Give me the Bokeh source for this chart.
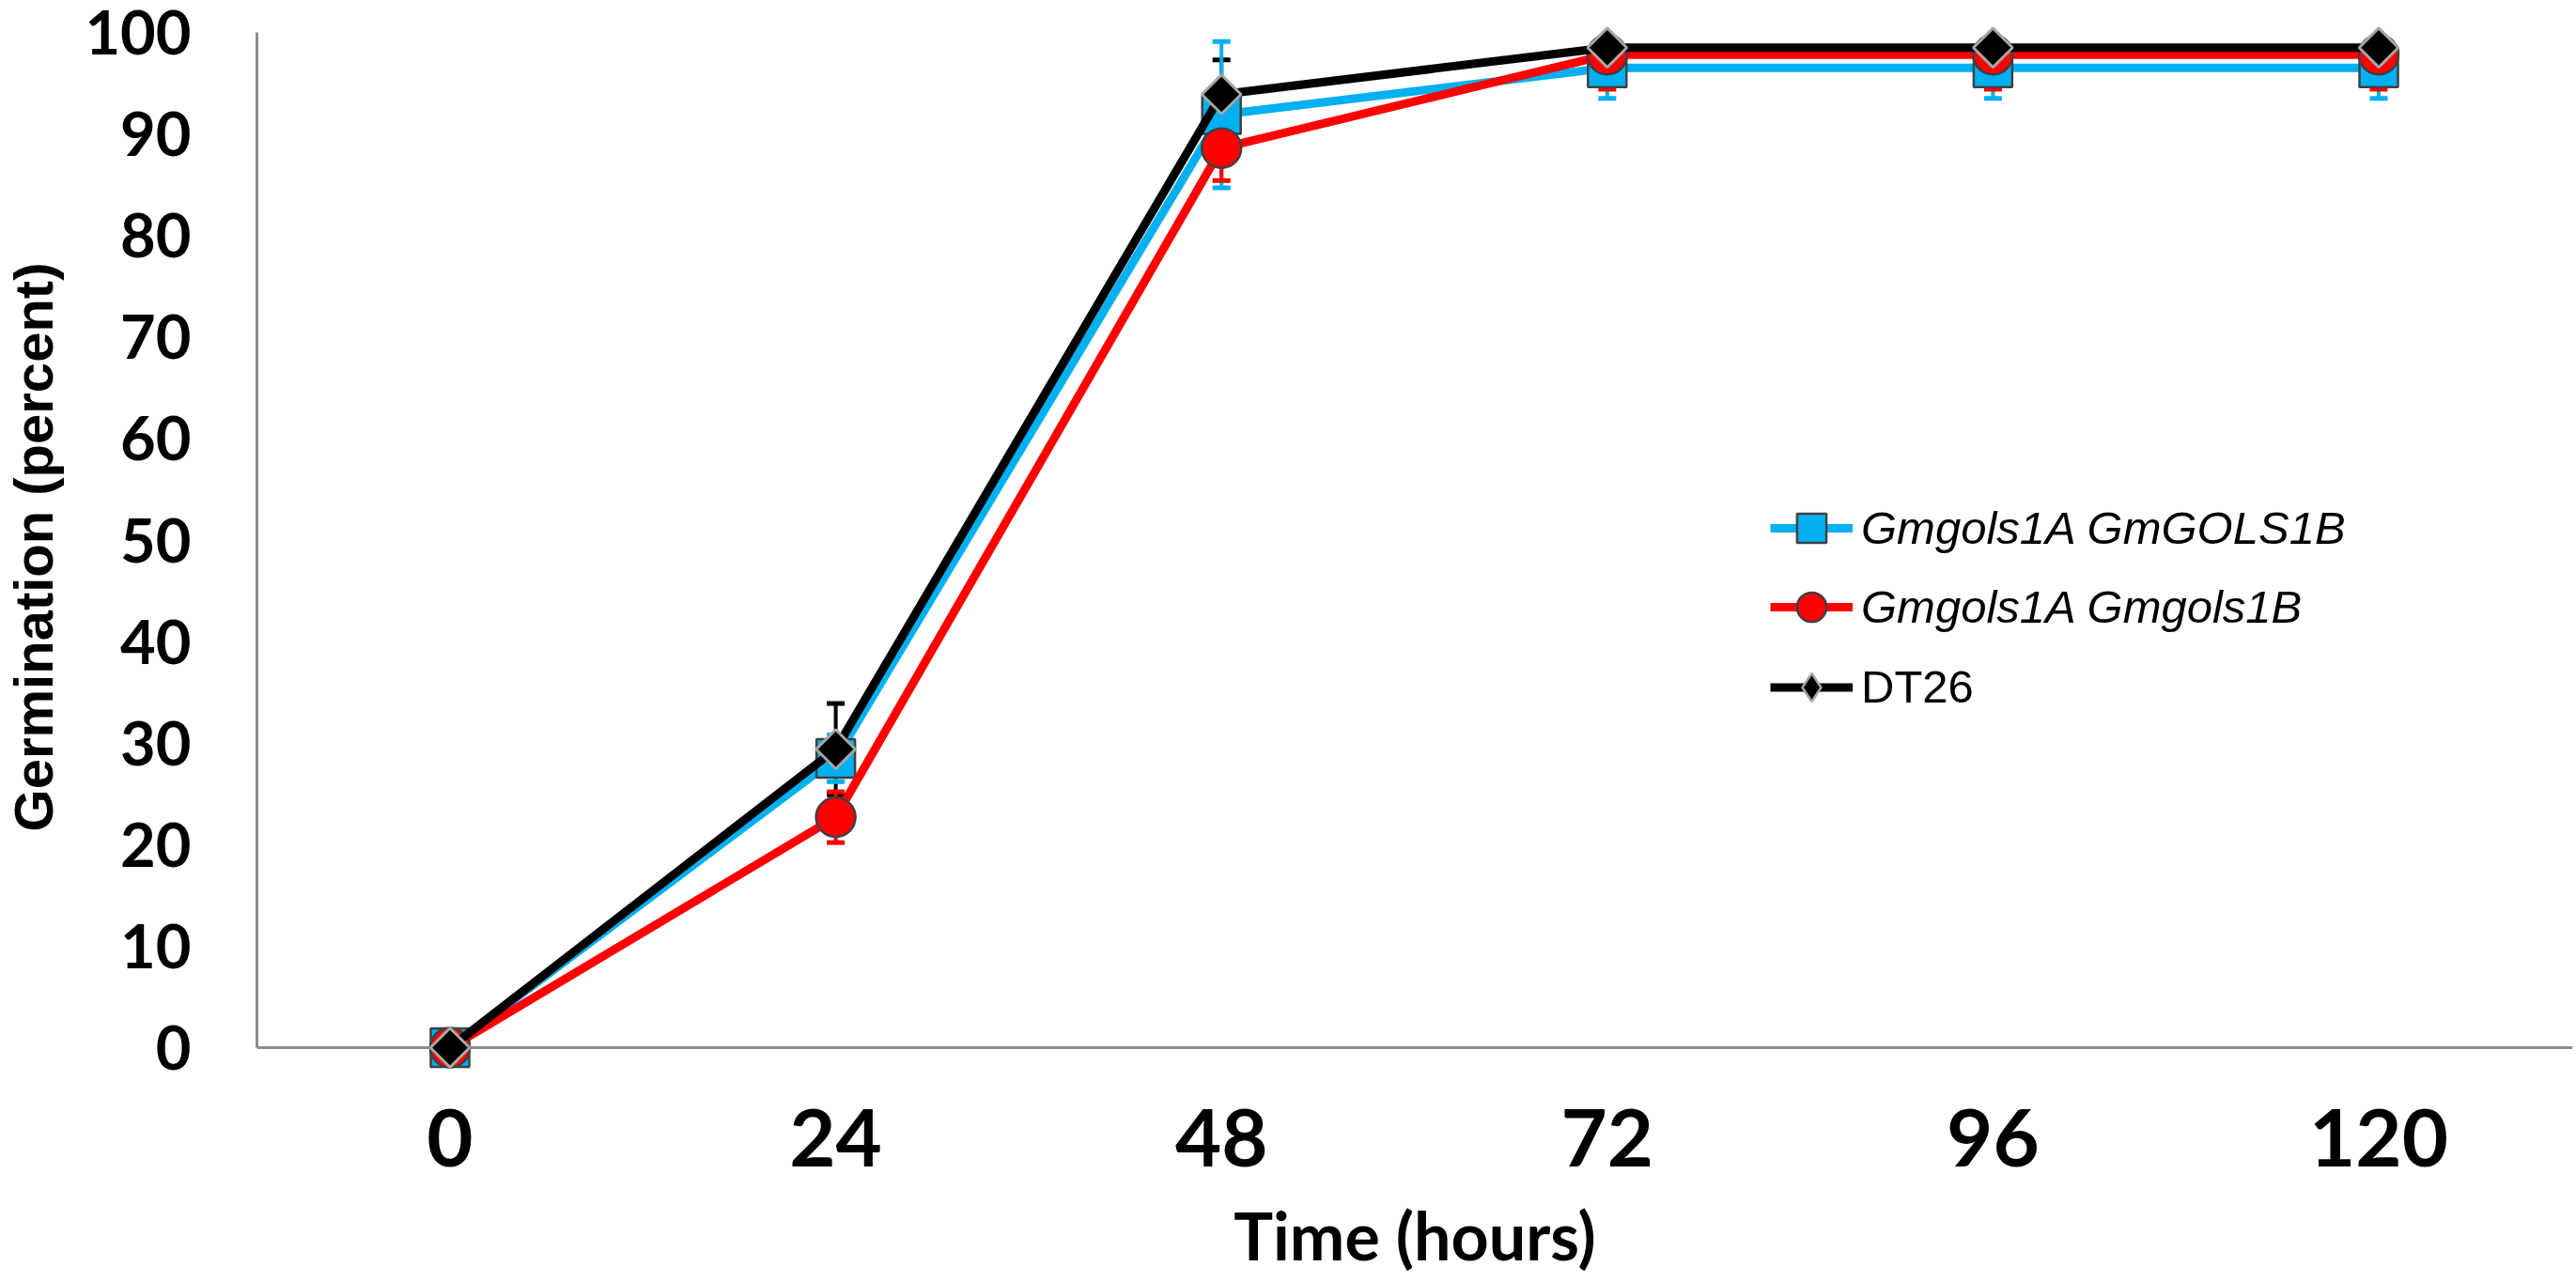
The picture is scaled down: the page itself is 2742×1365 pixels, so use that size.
import math
from bokeh.plotting import figure
from bokeh.models import FixedTicker, Span, Legend, LegendItem
from bokeh.embed import file_html
from bokeh.resources import INLINE

# ---------------- data ----------------
hours = [0, 24, 48, 72, 96, 120]
x_tick_labels = ["0", "24", "48", "72", "96", "120"]
y_ticks = [0, 10, 20, 30, 40, 50, 60, 70, 80, 90, 100]

series_names = ["Gmgols1A GmGOLS1B", "Gmgols1A Gmgols1B", "DT26"]
blue_vals = [0, 28.5, 91.9, 96.5, 96.5, 96.5]
blue_err = [0, 2.3, 7.2, 3.0, 3.0, 3.0]
red_vals = [0, 22.7, 88.6, 97.8, 97.8, 97.8]
red_err = [0, 2.5, 3.2, 3.4, 3.4, 3.4]
black_vals = [0, 29.4, 93.9, 98.5, 98.5, 98.5]
black_err = [0, 4.5, 3.4, 0, 0, 0]

BLUE = "#00B0F0"
RED = "#FF0000"
BLACK = "#000000"
AXIS_GRAY = "#8C8C8C"
Y_MAX = 100  # error bars are clipped at the axis maximum

# ---------------- layout (page pixels) ----------------
W, H = 2742, 1365
FL, MR = 267, 4          # frame left / right border
FT, MB = 10, 211         # frame top / bottom border
frame_h = H - FT - MB
frame_w = W - FL - MR
ppu_y = 10.81            # px per percent
y100_px = 34             # page y of 100 %
y_end = 100 + (y100_px - FT) / ppu_y
y_start = y_end - frame_h / ppu_y
ppu_x = 17.15            # px per hour
x0_px = 473              # page x of hour 0
x_start = -(x0_px - FL) / ppu_x
x_end = x_start + frame_w / ppu_x

p = figure(width=W, height=H, x_range=(x_start, x_end), y_range=(y_start, y_end),
           output_backend="svg", toolbar_location=None, title=None,
           min_border_left=FL, min_border_right=MR, min_border_top=FT,
           min_border_bottom=MB)
p.outline_line_color = None
p.xgrid.visible = False
p.ygrid.visible = False
p.background_fill_color = "white"
p.border_fill_color = "white"

# x axis line at y = 0
p.add_layout(Span(location=0, dimension="width", line_color=AXIS_GRAY,
                  line_width=3, level="underlay"))

# ---------------- error bars ----------------
def error_bars(vals, errs, color):
    up = [min(v + e, Y_MAX) for v, e in zip(vals, errs)]
    lo = [v - e for v, e in zip(vals, errs)]
    p.segment(x0=hours, y0=lo, x1=hours, y1=up, line_color=color, line_width=4)
    cx_up = [h for h, v, e in zip(hours, vals, errs) if e > 0 and v + e <= Y_MAX]
    cy_up = [v + e for v, e in zip(vals, errs) if e > 0 and v + e <= Y_MAX]
    cx_lo = [h for h, e in zip(hours, errs) if e > 0]
    cy_lo = [v - e for v, e in zip(vals, errs) if e > 0]
    p.scatter(cx_up, cy_up, marker="dash", size=19, line_color=color, line_width=5)
    p.scatter(cx_lo, cy_lo, marker="dash", size=19, line_color=color, line_width=5)

error_bars(black_vals, black_err, BLACK)
error_bars(blue_vals, blue_err, BLUE)
error_bars(red_vals, red_err, RED)

# ---------------- series ----------------
l_blue = p.line(hours, blue_vals, line_color=BLUE, line_width=9, line_join="round")
m_blue = p.scatter(hours, blue_vals, marker="square", size=41, fill_color=BLUE,
                   line_color="#404040", line_width=2.5)
l_red = p.line(hours, red_vals, line_color=RED, line_width=9, line_join="round")
m_red = p.scatter(hours, red_vals, marker="circle", size=42, fill_color=RED,
                  line_color="#404040", line_width=2.5)
l_black = p.line(hours, black_vals, line_color=BLACK, line_width=9, line_join="round")
# legend proxy for the diamond (zero size on the plot, drawn beneath the real markers)
m_black_leg = p.scatter(hours, black_vals, marker="diamond", size=0, fill_color=BLACK,
                        line_color="#A6A6A6", line_width=2.5)
m_black = p.scatter(hours, black_vals, marker="square", angle=math.pi / 4, size=29.5,
                    fill_color=BLACK, line_color="#A6A6A6", line_width=3)

# ---------------- axes ----------------
xa = p.xaxis[0]
xa.ticker = FixedTicker(ticks=hours)
xa.major_label_overrides = {h: t for h, t in zip(hours, x_tick_labels)}
xa.axis_line_color = None
xa.major_tick_line_color = None
xa.minor_tick_line_color = None
xa.major_tick_out = 0
xa.major_tick_in = 0
xa.major_label_standoff = 26
xa.major_label_text_font = "Lato"
xa.major_label_text_font_style = "bold"
xa.major_label_text_font_size = "85px"
xa.major_label_text_color = "black"
xa.axis_label = "Time (hours)"
xa.axis_label_text_font = "Lato"
xa.axis_label_text_font_style = "bold"
xa.axis_label_text_font_size = "70px"
xa.axis_label_text_color = "black"
xa.axis_label_standoff = 28

ya = p.yaxis[0]
ya.ticker = FixedTicker(ticks=y_ticks)
ya.bounds = (0, 100)
ya.axis_line_color = AXIS_GRAY
ya.axis_line_width = 3
ya.major_tick_line_color = None
ya.minor_tick_line_color = None
ya.major_tick_out = 0
ya.major_tick_in = 0
ya.major_label_standoff = 70
ya.major_label_text_font = "Lato"
ya.major_label_text_font_style = "bold"
ya.major_label_text_font_size = "65px"
ya.major_label_text_color = "black"
ya.axis_label = "Germination (percent)"
ya.axis_label_text_font = "Liberation Sans"
ya.axis_label_text_font_style = "bold"
ya.axis_label_text_font_size = "58px"
ya.axis_label_text_color = "black"
ya.axis_label_standoff = 19

# ---------------- legends ----------------
frame_bottom = FT + frame_h
leg_x = 1878 - FL
g1 = 78
sp1 = 6
leg1_top = 562 - g1 / 2
leg1_bottom = leg1_top + 2 * g1 + sp1
leg1 = Legend(items=[LegendItem(label=series_names[0], renderers=[l_blue, m_blue]),
                     LegendItem(label=series_names[1], renderers=[l_red, m_red])],
              location=(leg_x, frame_bottom - leg1_bottom),
              glyph_width=88, glyph_height=g1, label_height=g1, spacing=sp1,
              label_standoff=9, padding=0, margin=0, border_line_color=None,
              background_fill_alpha=0, label_text_font="Liberation Sans",
              label_text_font_style="italic", label_text_font_size="49px",
              label_text_color="black")
g2 = 75
leg2_bottom = 731 + g2 / 2
leg2 = Legend(items=[LegendItem(label=series_names[2], renderers=[l_black, m_black_leg])],
              location=(leg_x, frame_bottom - leg2_bottom),
              glyph_width=88, glyph_height=g2, label_height=g2, spacing=0,
              label_standoff=9, padding=0, margin=0, border_line_color=None,
              background_fill_alpha=0, label_text_font="Liberation Sans",
              label_text_font_style="normal", label_text_font_size="49px",
              label_text_color="black")
p.add_layout(leg1)
p.add_layout(leg2)

open("out.html", "w").write(file_html(p, INLINE))
